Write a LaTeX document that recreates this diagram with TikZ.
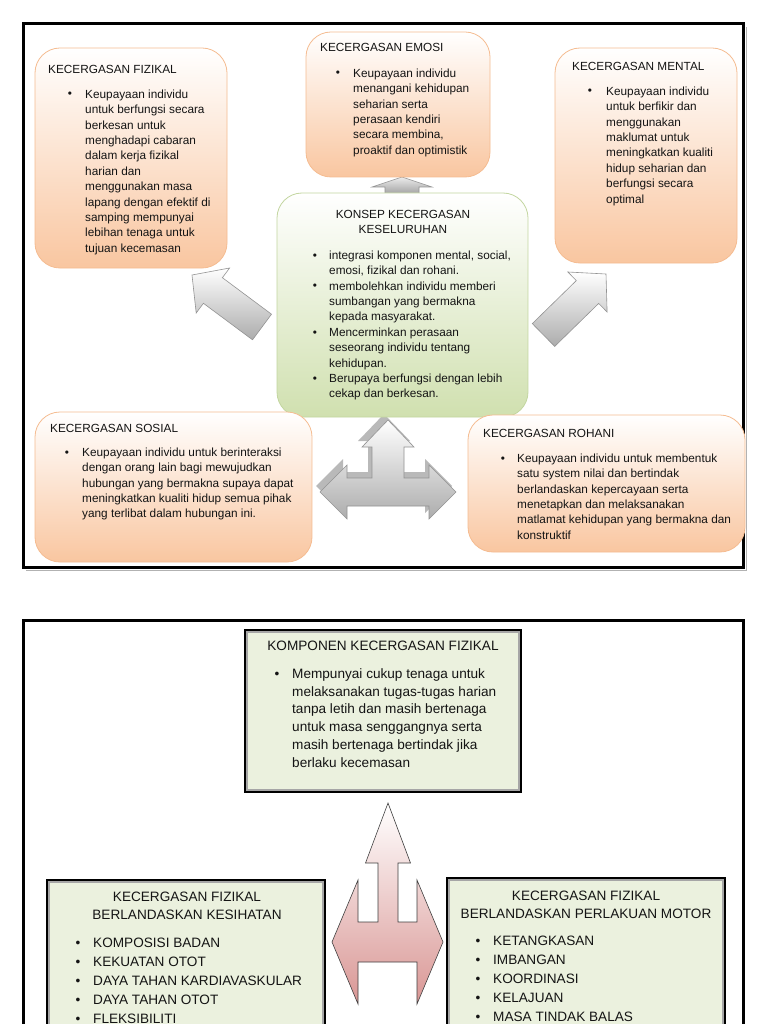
\documentclass[tikz,border=0pt]{standalone}
\usepackage{fontspec}
\setmainfont{Liberation Sans}
\definecolor{peach}{RGB}{249,198,160}
\definecolor{peachline}{RGB}{245,188,145}
\definecolor{lgreen}{RGB}{208,224,175}
\definecolor{greenline}{RGB}{195,214,160}
\definecolor{gfill}{RGB}{235,241,222}
\definecolor{pinkc}{RGB}{217,150,148}
\definecolor{txtc}{RGB}{20,20,20}
\tikzset{
  pbox/.style={draw=peachline, line width=0.8pt, rounded corners=25pt, top color=white, bottom color=peach, inner sep=0pt},
  gbox/.style={draw=greenline, line width=0.8pt, rounded corners=25pt, top color=white, bottom color=lgreen, inner sep=0pt},
  fbox/.style={draw=black, line width=2.6pt, fill=gfill, inner sep=0pt},
  sm/.style={font=\fontsize{11.8}{15.4}\selectfont, text=txtc, inner sep=0pt, align=left, anchor=north west},
  smt/.style={font=\fontsize{11.8}{15.4}\selectfont, text=txtc, inner sep=0pt, anchor=base west},
  smc/.style={font=\fontsize{11.8}{15.4}\selectfont, text=txtc, inner sep=0pt, align=center, anchor=north},
  lg/.style={font=\fontsize{13.6}{17.8}\selectfont, text=txtc, inner sep=0pt, align=left, anchor=north west},
  lgl/.style={font=\fontsize{13.6}{19}\selectfont, text=txtc, inner sep=0pt, align=left, anchor=north west},
  lgc/.style={font=\fontsize{13.6}{18.5}\selectfont, text=txtc, inner sep=0pt, align=center, anchor=north},
  bul/.style={font=\fontsize{11.8}{14}\selectfont, inner sep=0pt, anchor=base, text=txtc},
  bulg/.style={font=\fontsize{13.6}{14}\selectfont, inner sep=0pt, anchor=base, text=txtc},
  garrow/.style={draw=gray!85, line width=0.6pt, top color=white, bottom color=gray!65},
  gshadow/.style={fill=gray!55, draw=none},
  parrow/.style={draw=black!75, line width=0.6pt, top color=white, bottom color=pinkc},
  frame/.style={draw=black, line width=3pt},
  inframe/.style={draw=gray!70, line width=1.4pt},
}
\begin{document}
\begin{tikzpicture}[x=1pt,y=-1pt]
\useasboundingbox (0,0) rectangle (768,1024);
\fill[white] (0,0) rectangle (768,1024);

% ---------- frames ----------
\draw[frame] (23,24) rectangle (743,567);
\draw[draw=gray!60, line width=1pt] (26,570) -- (746,570) -- (746,27);
\draw[frame] (23,1040) -- (23,620) -- (743,620) -- (743,1040);

% ---------- top section arrows ----------
% small up arrow (konsep -> emosi)
\draw[garrow, top color=gray!15, bottom color=gray!80] (402,177) -- (432,187) -- (419,187) -- (419,196) -- (385,196) -- (385,187) -- (372,187) -- cycle;
% left diagonal arrow
\draw[garrow] (192,275) -- (229.6,268) -- (222.4,277.7) -- (271.5,314.2) -- (252.5,339.8) -- (203.4,303.3) -- (196.2,313) -- cycle;
% right diagonal arrow
\draw[garrow] (606,274) -- (607.1,312) -- (598.7,303.4) -- (554.7,346.4) -- (532.3,323.6) -- (576.3,280.6) -- (567.9,272) -- cycle;
% three-way arrow with shadow
\begin{scope}[shift={(-4,-6)}]
\fill[gshadow] (388,420) -- (414,447) -- (404,447) -- (404,478) -- (429,478) -- (429,465) -- (456,492) -- (429,519) -- (429,506) -- (347,506) -- (347,519) -- (320,492) -- (347,465) -- (347,478) -- (372,478) -- (372,447) -- (362,447) -- cycle;
\end{scope}
\draw[garrow] (388,420) -- (414,447) -- (404,447) -- (404,478) -- (429,478) -- (429,465) -- (456,492) -- (429,519) -- (429,506) -- (347,506) -- (347,519) -- (320,492) -- (347,465) -- (347,478) -- (372,478) -- (372,447) -- (362,447) -- cycle;

% ---------- top section boxes ----------
\node[pbox, minimum width=192pt, minimum height=220pt] (fiz) at (131,158) {};
\node[pbox, minimum width=184pt, minimum height=145pt] (emo) at (398,104.5) {};
\node[pbox, minimum width=182pt, minimum height=215pt] (men) at (646,155.5) {};
\node[gbox, minimum width=251pt, minimum height=224pt] (kon) at (402.5,305) {};
\node[pbox, minimum width=277pt, minimum height=150pt] (sos) at (173.5,487) {};
\node[pbox, minimum width=277pt, minimum height=137pt] (roh) at (606.5,483.5) {};

% FIZIKAL
\node[smt] (fizT) at (48,74) {KECERGASAN FIZIKAL};
\node[bul] (fizb) at (70,98) {\textbullet};
\node[sm] (fizB) at (85,89.6) {Keupayaan individu\\untuk berfungsi secara\\berkesan untuk\\menghadapi cabaran\\dalam kerja fizikal\\harian dan\\menggunakan masa\\lapang dengan efektif di\\samping mempunyai\\lebihan tenaga untuk\\tujuan kecemasan};

% EMOSI
\node[smt] (emoT) at (320,52) {KECERGASAN EMOSI};
\node[bul] (emob) at (338,77) {\textbullet};
\node[sm] (emoB) at (353,68.6) {Keupayaan individu\\menangani kehidupan\\seharian serta\\perasaan kendiri\\secara membina,\\proaktif dan optimistik};

% MENTAL
\node[smt] (menT) at (572,71) {KECERGASAN MENTAL};
\node[bul] (menb) at (590,95) {\textbullet};
\node[sm] (menB) at (606,86.6) {Keupayaan individu\\untuk berfikir dan\\menggunakan\\maklumat untuk\\meningkatkan kualiti\\hidup seharian dan\\berfungsi secara\\optimal};

% KONSEP
\node[smc] (konT) at (403,209.6) {KONSEP KECERGASAN\\KESELURUHAN};
\node[bul] (konb1) at (315,259) {\textbullet};
\node[bul] (konb2) at (315,289.8) {\textbullet};
\node[bul] (konb3) at (315,336) {\textbullet};
\node[bul] (konb4) at (315,382.2) {\textbullet};
\node[sm] (konB) at (329,250.6) {integrasi komponen mental, social,\\emosi, fizikal dan rohani.\\membolehkan individu memberi\\sumbangan yang bermakna\\kepada masyarakat.\\Mencerminkan perasaan\\seseorang individu tentang\\kehidupan.\\Berupaya berfungsi dengan lebih\\cekap dan berkesan.};

% SOSIAL
\node[smt] (sosT) at (50,432) {KECERGASAN SOSIAL};
\node[bul] (sosb) at (67,456) {\textbullet};
\node[sm] (sosB) at (82,447.6) {Keupayaan individu untuk berinteraksi\\dengan orang lain bagi mewujudkan\\hubungan yang bermakna supaya dapat\\meningkatkan kualiti hidup semua pihak\\yang terlibat dalam hubungan ini.};

% ROHANI
\node[smt] (rohT) at (483,437) {KECERGASAN ROHANI};
\node[bul] (rohb) at (503,462) {\textbullet};
\node[sm] (rohB) at (517,453.6) {Keupayaan individu untuk membentuk\\satu system nilai dan bertindak\\berlandaskan kepercayaan serta\\menetapkan dan melaksanakan\\matlamat kehidupan yang bermakna dan\\konstruktif};

% ---------- bottom section ----------
% pink three-way arrow
\draw[parrow] (388,803) -- (410.5,863) -- (398,863) -- (398,922) -- (417,922) -- (417,880) -- (443,942) -- (417,1004) -- (417,962) -- (358,962) -- (358,1004) -- (332,942) -- (358,880) -- (358,922) -- (378,922) -- (378,863) -- (365.5,863) -- cycle;

\node[fbox, minimum width=276pt, minimum height=162pt] (komp) at (383,711) {};
\draw[inframe] ([shift={(3.2,3.2)}]komp.north west) rectangle ([shift={(-3.2,-3.2)}]komp.south east);
\node[fbox, minimum width=278pt, minimum height=180pt] (kes) at (186,970) {};
\draw[inframe] ([shift={(3.2,3.2)}]kes.north west) rectangle ([shift={(-3.2,-3.2)}]kes.south east);
\node[fbox, minimum width=278pt, minimum height=182pt] (mot) at (586,969) {};
\draw[inframe] ([shift={(3.2,3.2)}]mot.north west) rectangle ([shift={(-3.2,-3.2)}]mot.south east);

% KOMPONEN
\node[font=\fontsize{13.6}{17.8}\selectfont, text=txtc, inner sep=0pt, anchor=base] (kompT) at (383,650) {KOMPONEN KECERGASAN FIZIKAL};
\node[bulg] (kompb) at (277,678) {\textbullet};
\node[lg] (kompB) at (292,668.3) {Mempunyai cukup tenaga untuk\\melaksanakan tugas-tugas harian\\tanpa letih dan masih bertenaga\\untuk masa senggangnya serta\\masih bertenaga bertindak jika\\berlaku kecemasan};

% KESIHATAN
\node[lgc] (kesT) at (187,891.3) {KECERGASAN FIZIKAL\\BERLANDASKAN KESIHATAN};
\foreach \i in {0,...,4} { \node[bulg] (kesb\i) at (78,947+19*\i) {\textbullet}; }
\node[lgl] (kesB) at (93,937.3) {KOMPOSISI BADAN\\KEKUATAN OTOT\\DAYA TAHAN KARDIAVASKULAR\\DAYA TAHAN OTOT\\FLEKSIBILITI};

% MOTOR
\node[lgc] (motT) at (586,890.3) {KECERGASAN FIZIKAL\\BERLANDASKAN PERLAKUAN MOTOR};
\foreach \i in {0,...,4} { \node[bulg] (motb\i) at (478,945+19*\i) {\textbullet}; }
\node[lgl] (motB) at (493,935.3) {KETANGKASAN\\IMBANGAN\\KOORDINASI\\KELAJUAN\\MASA TINDAK BALAS};
\end{tikzpicture}
\end{document}
